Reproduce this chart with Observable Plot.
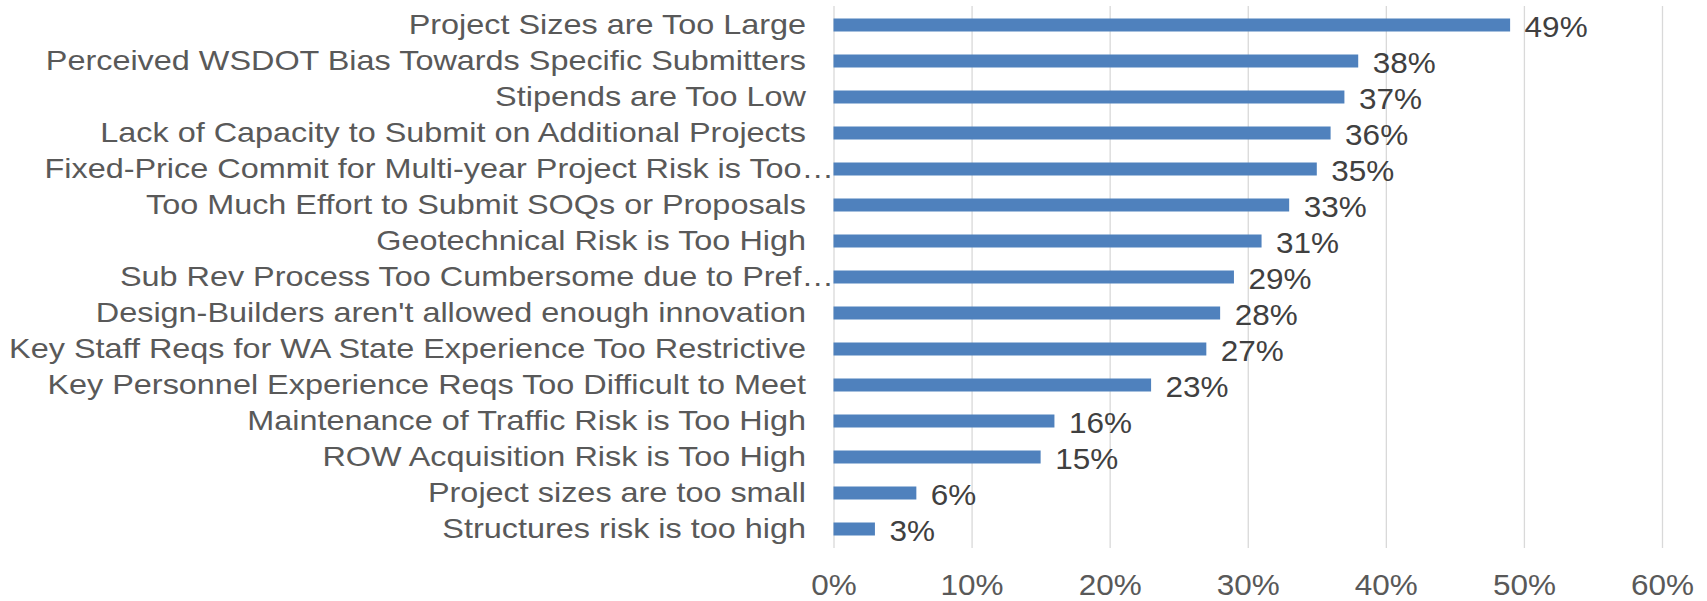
<!DOCTYPE html>
<html>
<head>
<meta charset="utf-8">
<script src="https://cdn.jsdelivr.net/npm/d3@7"></script>
<script src="https://cdn.jsdelivr.net/npm/@observablehq/plot@0.6"></script>
<style>
  html, body { margin: 0; padding: 0; background: #ffffff; overflow: hidden; }
  #chart svg { display: block; }
</style>
</head>
<body>
<div id="chart"></div>
<script>
const categories = [
  "Project Sizes are Too Large",
  "Perceived WSDOT Bias Towards Specific Submitters",
  "Stipends are Too Low",
  "Lack of Capacity to Submit on Additional Projects",
  "Fixed-Price Commit for Multi-year Project Risk is Too…",
  "Too Much Effort to Submit SOQs or Proposals",
  "Geotechnical Risk is Too High",
  "Sub Rev Process Too Cumbersome due to Pref…",
  "Design-Builders aren't allowed enough innovation",
  "Key Staff Reqs for WA State Experience Too Restrictive",
  "Key Personnel Experience Reqs Too Difficult to Meet",
  "Maintenance of Traffic Risk is Too High",
  "ROW Acquisition Risk is Too High",
  "Project sizes are too small",
  "Structures risk is too high"
];
const values = [49, 38, 37, 36, 35, 33, 31, 29, 28, 27, 23, 16, 15, 6, 3];
const tickValues = [0, 10, 20, 30, 40, 50, 60];
const tickLabels = ["0%", "10%", "20%", "30%", "40%", "50%", "60%"];

const data = categories.map((c, i) => ({category: c, value: values[i]}));
const truncated = categories.filter(c => c.endsWith("…"));
const normal = categories.filter(c => !c.endsWith("…"));

const svg = Plot.plot({
  width: 1707,
  height: 601,
  marginTop: 6,
  marginBottom: 53,
  marginLeft: 833.5,
  marginRight: 45,
  style: {fontFamily: "'Liberation Sans', Arial, sans-serif", background: "#ffffff"},
  x: {domain: [0, 60], axis: null},
  y: {type: "band", domain: categories, padding: 0, axis: null},
  marks: [
    Plot.gridX(tickValues, {stroke: "#d9d9d9", strokeOpacity: 1, strokeWidth: 1.3}),
    Plot.barX(data, {x: "value", y: "category", fill: "#4F81BD", insetTop: 11.5, insetBottom: 11.5}),
    Plot.text(data, {
      x: "value", y: "category", text: d => d.value + "%",
      textAnchor: "start", dx: 14, dy: 2, fontSize: 30, fill: "#404040"
    }),
    Plot.axisY({ticks: normal, label: null, tickSize: 0, tickPadding: 28, fontSize: 27, color: "#595959"}),
    Plot.axisY({ticks: truncated, label: null, tickSize: 0, tickPadding: 0, fontSize: 27, color: "#595959"}),
    Plot.axisX({
      ticks: tickValues, tickFormat: d => tickLabels[tickValues.indexOf(d)], label: null,
      tickSize: 0, tickPadding: 25, fontSize: 30, color: "#595959"
    })
  ]
});

document.getElementById("chart").appendChild(svg);

// Widen glyphs horizontally (around each text's own anchor) to match the reference's letterforms
svg.querySelectorAll("text").forEach(t => {
  const fs = parseFloat(getComputedStyle(t).fontSize);
  const s = fs < 28.5 ? 1.2 : 1.05;
  const x = +t.getAttribute("x") || 0, y = +t.getAttribute("y") || 0;
  const T = t.getAttribute("transform") || "";
  t.setAttribute("transform", `${T} translate(${x},${y}) scale(${s},1) translate(${-x},${-y})`);
});
</script>
</body>
</html>
